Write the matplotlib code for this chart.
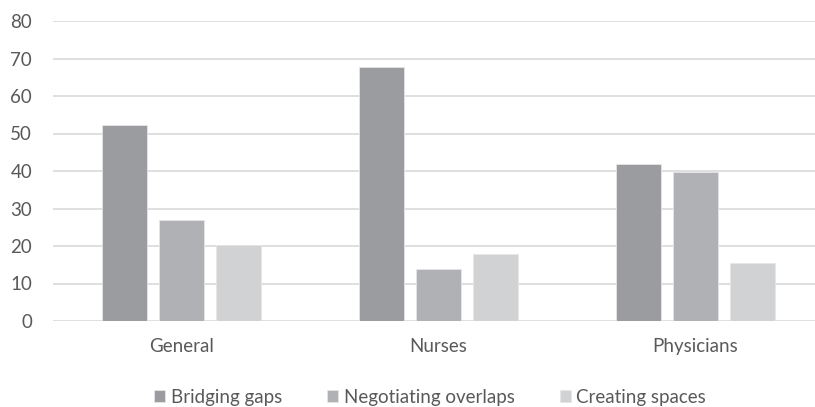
import numpy as np
import matplotlib.pyplot as plt

plt.rcParams['font.family'] = ['Lato', 'DejaVu Sans']

categories = ['General', 'Nurses', 'Physicians']
bridging = [52.3, 67.8, 42.0]
negotiating = [26.9, 14.0, 39.8]
creating = [20.3, 17.8, 15.4]

series = [
    ('Bridging gaps', bridging, '#9b9c9f'),
    ('Negotiating overlaps', negotiating, '#b0b1b4'),
    ('Creating spaces', creating, '#d1d2d4'),
]

fig = plt.figure(figsize=(8.15, 4.07), dpi=100)
# axes extends slightly past the right edge, as in the original crop
ax = fig.add_axes([53 / 815, 1 - 321 / 407, 771 / 815, 300 / 407])

x = np.arange(len(categories))
w = 0.175
step = 0.222
for i, (name, vals, col) in enumerate(series):
    ax.bar(x + (i - 1) * step, vals, w, color=col, label=name,
           edgecolor='#e6e6e6', linewidth=0.6, zorder=3)

ax.set_xlim(-0.5, 2.5)
ax.set_ylim(0, 80)
ax.set_yticks(range(0, 81, 10))
ax.set_xticks(x)
ax.set_xticklabels(categories)
ax.grid(axis='y', color='#d9d9d9', linewidth=1.2, zorder=0)
for s in ax.spines.values():
    s.set_visible(False)
ax.tick_params(axis='both', length=0, labelsize=13.5, colors='#595959')
ax.tick_params(axis='x', pad=12)
ax.tick_params(axis='y', pad=15)

leg = fig.legend(loc='center', bbox_to_anchor=(430 / 815, 1 - 397 / 407), ncol=3,
                 frameon=False, fontsize=13.5, handlelength=0.6, handleheight=0.6,
                 handletextpad=0.3, columnspacing=2.4)
for t in leg.get_texts():
    t.set_color('#595959')

fig.savefig('out.png', dpi=100)
